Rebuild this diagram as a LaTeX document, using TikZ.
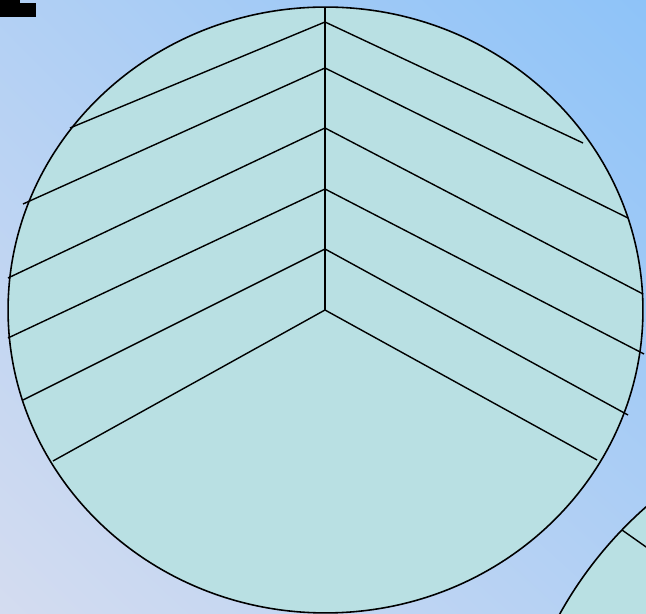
\documentclass[tikz,border=0pt]{standalone}
\usepackage{tikz}
\usetikzlibrary{shadings}

\definecolor{fondoBajo}{RGB}{212,220,240}
\definecolor{fondoMedio}{RGB}{178,208,244}
\definecolor{fondoAlto}{RGB}{142,195,248}
\definecolor{disco}{RGB}{185,224,227}

\begin{document}
\begin{tikzpicture}[
        x=0.02cm, y=-0.02cm,
        borde/.style={draw=black, line width=0.9pt, fill=disco},
        raya/.style={draw=black, line width=0.8pt}
    ]
        \useasboundingbox (0,0) rectangle (646,614);
        \clip (0,0) rectangle (646,614);

        % fondo
        \shade[lower left=fondoBajo, upper right=fondoAlto,
               upper left=fondoMedio, lower right=fondoMedio]
            (0,0) rectangle (646,614);

        % marca recortada arriba a la izquierda
        \fill[black] (0,3) rectangle (36,17);
        \fill[black] (0,0) rectangle (20,3);

        % disco principal
        \coordinate (centro) at (325.5,310);
        \draw[borde] (centro) ellipse [x radius=6.35cm, y radius=6.06cm];

        % segundo disco, abajo a la derecha
        \draw[borde] (913,810) circle [radius=8.08cm];
        \coordinate (v7) at (622,530);
        \coordinate (f7) at (700,585);
        \draw[raya] (v7) -- (f7);

        % eje vertical
        \coordinate (arriba) at (325,7);
        \coordinate (v1) at (325,22);
        \coordinate (v2) at (325,68);
        \coordinate (v3) at (325,128);
        \coordinate (v4) at (325,189);
        \coordinate (v5) at (325,249);
        \coordinate (v6) at (325,310);
        \draw[raya] (arriba) -- (v6);

        % lado izquierdo
        \coordinate (i1) at (70,128);
        \coordinate (i2) at (23,204);
        \coordinate (i3) at (8,278);
        \coordinate (i4) at (8,338);
        \coordinate (i5) at (23,400);
        \coordinate (i6) at (53,461);
        \draw[raya] (v1) -- (i1);
        \draw[raya] (v2) -- (i2);
        \draw[raya] (v3) -- (i3);
        \draw[raya] (v4) -- (i4);
        \draw[raya] (v5) -- (i5);
        \draw[raya] (v6) -- (i6);

        % lado derecho
        \coordinate (d1) at (583,143);
        \coordinate (d2) at (628,218);
        \coordinate (d3) at (643,294);
        \coordinate (d4) at (644,354);
        \coordinate (d5) at (628,415);
        \coordinate (d6) at (597,460);
        \draw[raya] (v1) -- (d1);
        \draw[raya] (v2) -- (d2);
        \draw[raya] (v3) -- (d3);
        \draw[raya] (v4) -- (d4);
        \draw[raya] (v5) -- (d5);
        \draw[raya] (v6) -- (d6);
    \end{tikzpicture}
\end{document}
